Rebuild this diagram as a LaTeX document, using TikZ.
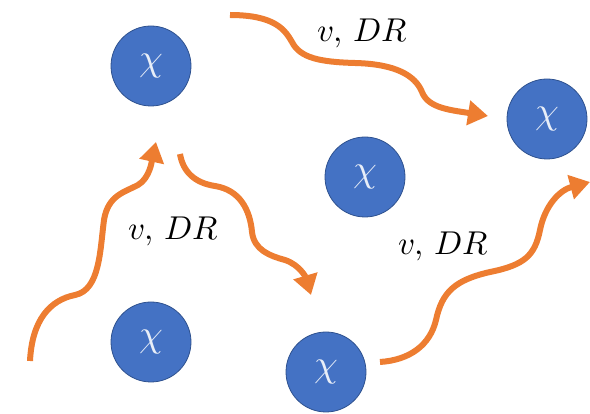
\documentclass[tikz,border=0pt]{standalone}
\usepackage{unicode-math}
\setmathfont{Latin Modern Math}
\usetikzlibrary{arrows.meta}
\definecolor{cblue}{HTML}{4472C4}
\definecolor{cedge}{HTML}{2F528F}
\definecolor{corange}{HTML}{ED7D31}
\definecolor{ctext}{HTML}{E8EEF8}
\begin{document}
\begin{tikzpicture}[x=1pt,y=-1pt,
  particle/.style={circle,fill=cblue,draw=cedge,line width=0.8pt,minimum size=80pt,inner sep=0pt,
    text=ctext,font=\fontsize{38}{40}\selectfont},
  wave/.style={draw=corange,line width=6pt,line cap=butt,-{Triangle[length=20pt,width=24pt]}},
  lbl/.style={font=\fontsize{33}{35}\selectfont,text=black}]
\useasboundingbox (0,0) rectangle (590,414);
\node[particle] (p1) at (151,66) {$\chi$};
\node[particle] (p2) at (547,119) {$\chi$};
\node[particle] (p3) at (365,177) {$\chi$};
\node[particle] (p4) at (151,342) {$\chi$};
\node[particle] (p5) at (326,372) {$\chi$};
% arrow endpoints
\coordinate (a1s) at (230,15);
\coordinate (a1e) at (488,116);
\coordinate (a2s) at (30,361);
\coordinate (a2e) at (156,142);
\coordinate (a3s) at (180,154);
\coordinate (a3e) at (311,295);
\coordinate (a4s) at (380,362);
\coordinate (a4e) at (590,182);
\draw[wave] (a1s) .. controls (275,15) and (285,30) .. (292,42)
  .. controls (300,58) and (320,62) .. (355,63)
  .. controls (395,64) and (415,75) .. (422,92)
  .. controls (428,108) and (450,110) .. (a1e);
\draw[wave] (a2s) .. controls (32,320) and (50,300) .. (75,295)
  .. controls (100,290) and (100,250) .. (104,220)
  .. controls (108,195) and (125,192) .. (138,185)
  .. controls (150,178) and (152,160) .. (a2e);
\draw[wave] (a3s) .. controls (183,172) and (195,183) .. (215,186)
  .. controls (240,190) and (250,210) .. (252,232)
  .. controls (254,250) and (270,256) .. (285,260)
  .. controls (300,265) and (306,278) .. (a3e);
\draw[wave] (a4s) .. controls (410,360) and (430,345) .. (436,320)
  .. controls (442,292) and (455,280) .. (490,272)
  .. controls (525,265) and (535,255) .. (540,230)
  .. controls (545,205) and (560,190) .. (a4e);
\node[lbl] (l1) at (362,33) {$v,\,DR$};
\node[lbl] (l2) at (173,231) {$v,\,DR$};
\node[lbl] (l3) at (443,246) {$v,\,DR$};
\end{tikzpicture}
\end{document}
